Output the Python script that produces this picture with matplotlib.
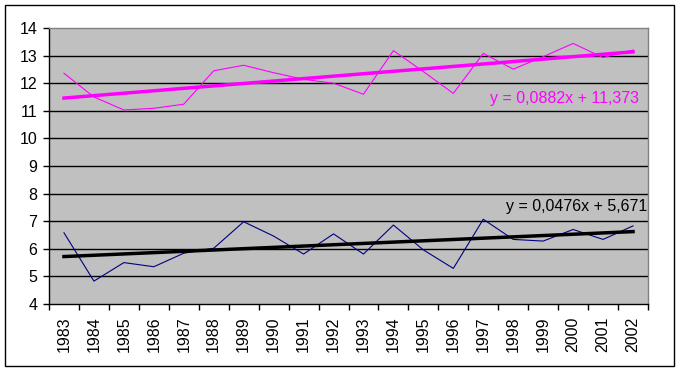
import matplotlib
matplotlib.use("Agg")
import matplotlib.pyplot as plt
import numpy as np
from matplotlib.patches import Rectangle

years = ["1983", "1984", "1985", "1986", "1987", "1988", "1989", "1990", "1991", "1992",
         "1993", "1994", "1995", "1996", "1997", "1998", "1999", "2000", "2001", "2002"]
pink_values = [12.36, 11.50, 11.03, 11.09, 11.24, 12.45, 12.65, 12.38, 12.14, 12.00,
               11.60, 13.18, 12.42, 11.63, 13.08, 12.51, 12.96, 13.44, 12.93, 13.20]
blue_values = [6.58, 4.83, 5.50, 5.35, 5.84, 6.02, 6.98, 6.46, 5.81, 6.54,
               5.81, 6.86, 5.96, 5.29, 7.07, 6.34, 6.28, 6.70, 6.34, 6.83]
pink_trend = (0.0882, 11.373)
blue_trend = (0.0476, 5.671)
pink_label = "y = 0,0882x + 11,373"
blue_label = "y = 0,0476x + 5,671"
y_ticks = [4, 5, 6, 7, 8, 9, 10, 11, 12, 13, 14]

plt.rcParams['font.family'] = ['Liberation Sans', 'DejaVu Sans']

fig = plt.figure(figsize=(6.81, 3.72), dpi=100)
fig.patch.set_facecolor("white")
fig.add_artist(Rectangle((5/681, 1 - 366/372), 669/681, 361/372, transform=fig.transFigure,
                         fill=False, edgecolor="black", linewidth=1))

ax = fig.add_axes([49/681, 1 - 304/372, 599/681, 276/372])
ax.set_facecolor("#C0C0C0")

x = np.arange(1, len(years) + 1)
ax.plot(x, pink_values, color="#FF00FF", linewidth=0.8, zorder=3)
ax.plot(x, blue_values, color="#000080", linewidth=0.8, zorder=3)

ax.plot(x, pink_trend[0] * x + pink_trend[1], color="#FF00FF", linewidth=2.5, zorder=4)
ax.plot(x, blue_trend[0] * x + blue_trend[1], color="black", linewidth=2.5, zorder=4)

ax.set_xlim(0.5, len(years) + 0.5)
ax.set_ylim(4, 14)
ax.set_yticks(y_ticks)
ax.set_yticklabels([str(v) for v in y_ticks], fontsize=11.5)
for v in y_ticks[1:-1]:
    ax.axhline(v, color="black", linewidth=1, zorder=1)

ax.set_xticks(x)
ax.set_xticklabels(years, rotation=90, fontsize=11.5)
ax.set_xticks(np.arange(0.5, len(years) + 1.5, 1), minor=True)
ax.tick_params(axis="x", which="major", length=0, pad=9)
ax.tick_params(axis="x", which="minor", length=4, width=1, color="black")
ax.tick_params(axis="y", length=4, width=1, color="black", pad=4.5)

ax.spines["left"].set_color("black")
ax.spines["bottom"].set_color("black")
ax.spines["top"].set_color("#808080")
ax.spines["right"].set_color("#808080")
for s in ax.spines.values():
    s.set_linewidth(1)

fig.text(639/681, 1 - 99/372, pink_label, color="#FF00FF", fontsize=11.5,
         ha="right", va="center")
fig.text(647/681, 1 - 207/372, blue_label, color="black", fontsize=11.5,
         ha="right", va="center")

fig.savefig("out.png", dpi=100)
